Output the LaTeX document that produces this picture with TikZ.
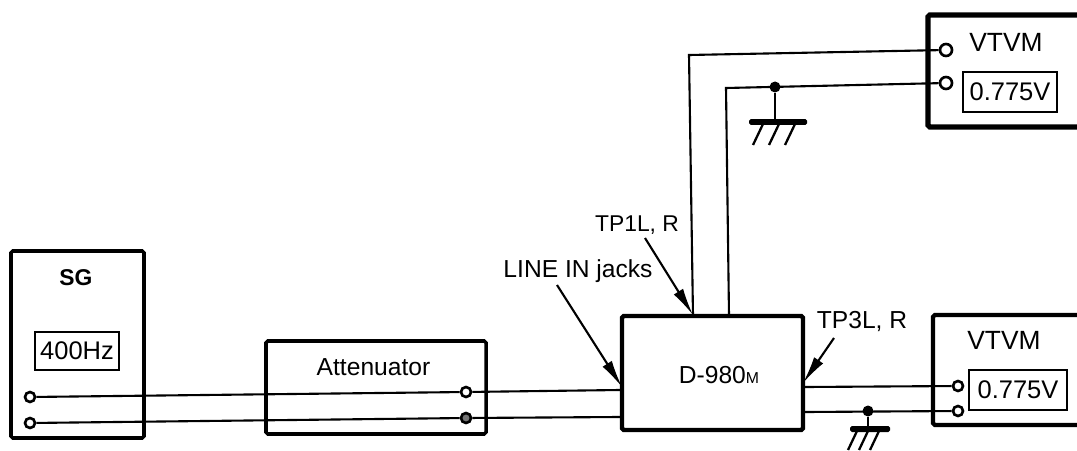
\documentclass[tikz,border=0pt]{standalone}
\usepackage{fontspec}
\setmainfont{Liberation Sans}
\usetikzlibrary{arrows.meta,calc,positioning}
\tikzset{
  unitbox/.style={draw,line width=2pt,rounded corners=1pt,minimum width=#1,inner sep=0pt},
  readout/.style={draw,line width=1.3pt,inner sep=0pt,font=\fontsize{14.5}{16}\selectfont},
  jack/.style={draw,circle,line width=1.5pt,fill=white,inner sep=0pt,minimum size=.2cm},
  tie/.style={circle,fill=black,inner sep=0pt,minimum size=.22cm},
  groundbar/.style={fill=black,rounded corners=1pt,inner sep=0pt,minimum height=.12cm},
  wire/.style={line width=1.2pt},
  callout/.style={line width=1.2pt,-{Latex[length=.55cm,width=.22cm]}},
  caption/.style={font=\fontsize{14}{16}\selectfont,inner sep=0pt}
}
\begin{document}
\begin{tikzpicture}[x=1cm,y=1cm]
    \useasboundingbox (0,0) rectangle (21.54,9);
    % units
    \node[unitbox=2.66cm,minimum height=3.74cm] (sg) at (1.55,2.11) {};
    \node[unitbox=4.4cm,minimum height=1.86cm] (att) at (7.52,1.25) {};
    \node[unitbox=3.62cm,minimum height=2.28cm,line width=2.5pt] (dut) at (14.25,1.54) {};
    \node[unitbox=3.4cm,minimum height=2.24cm,line width=3pt] (vtop) at (20.26,7.58) {};
    \node[unitbox=3.24cm,minimum height=2.2cm,line width=2.4pt] (vbot) at (20.28,1.6) {};
    % readouts
    \node[readout,minimum width=1.68cm,minimum height=.76cm] (hz) at (1.54,1.98) {400Hz};
    \node[readout,minimum width=1.88cm,minimum height=.8cm] (rtop) at (20.2,7.16) {0.775V};
    \node[readout,minimum width=1.96cm,minimum height=.8cm] (rbot) at (20.36,1.2) {0.775V};
    % labels
    \node[caption,font=\bfseries\fontsize{13}{15}\selectfont] (sgname) at (1.52,3.44) {SG};
    \node[caption] (attname) at (7.47,1.66) {Attenuator};
    \node[caption] (dutname) at (14.38,1.5) {D-980{\fontsize{9}{10}\selectfont M}};
    \node[caption,font=\fontsize{15}{16}\selectfont] (vtopname) at (20.12,8.16) {VTVM};
    \node[caption,font=\fontsize{15}{16}\selectfont] (vbotname) at (20.08,2.2) {VTVM};
    \node[caption,font=\fontsize{13}{15}\selectfont] (tpone) at (12.74,4.5) {TP1L, R};
    \node[caption] (linein) at (11.56,3.58) {LINE IN jacks};
    \node[caption] (tpthree) at (17.24,2.58) {TP3L, R};
    % jacks
    \node[jack] (sga) at (.6,1.06) {};
    \node[jack] (sgb) at (.6,.54) {};
    \node[jack] (atta) at (9.32,1.16) {};
    \node[jack,fill=black!55] (attb) at (9.32,.64) {};
    \node[jack,minimum size=.24cm] (vtopa) at (18.92,8) {};
    \node[jack,minimum size=.24cm] (vtopb) at (18.92,7.34) {};
    \node[jack] (vbota) at (19.16,1.28) {};
    \node[jack] (vbotb) at (19.16,.78) {};
    % points on the D-980 outline
    \coordinate (ina) at (dut.west |- 0,1.2);
    \coordinate (inb) at (dut.west |- 0,.66);
    \coordinate (outa) at (dut.east |- 0,1.26);
    \coordinate (outb) at (dut.east |- 0,.76);
    \coordinate (tpa) at (13.86,2.68);
    \coordinate (tpb) at (14.58,2.68);
    \coordinate (tpc) at (13.78,7.9);
    \coordinate (tpd) at (14.52,7.24);
    % wiring
    \draw[wire] (sga)--(atta)--(ina);
    \draw[wire] (sgb)--(attb)--(inb);
    \draw[wire] (tpa)--(tpc)--(vtopa);
    \draw[wire] (tpb)--(tpd)--(vtopb);
    \draw[wire] (outa)--(vbota);
    \draw[wire] (outb)--(vbotb);
    % grounds
    \node[tie] (gtop) at (15.5,7.26) {};
    \node[groundbar,minimum width=1.16cm] (bartop) at (15.56,6.56) {};
    \draw[wire] (gtop)--(gtop |- bartop);
    \foreach \i in {-.32,0,.32}
      \draw[line width=1.3pt] (15.58+\i,6.52)--(15.38+\i,6.1);
    \node[tie] (gbot) at (17.36,.78) {};
    \node[groundbar,minimum width=.8cm] (barbot) at (17.4,.42) {};
    \draw[wire] (gbot)--(gbot |- barbot);
    \foreach \i in {-.22,0,.22}
      \draw[line width=1.3pt] (17.36+\i,.38)--(17.18+\i,0);
    % callouts
    \coordinate (tipa) at (13.86,2.7);
    \coordinate (tipb) at (12.44,1.26);
    \coordinate (tipc) at (16.06,1.34);
    \draw[callout] (12.9,4.24)--(tipa);
    \draw[callout] (11.14,3.3)--(tipb);
    \draw[callout] (16.68,2.24)--(tipc);
  \end{tikzpicture}
\end{document}
